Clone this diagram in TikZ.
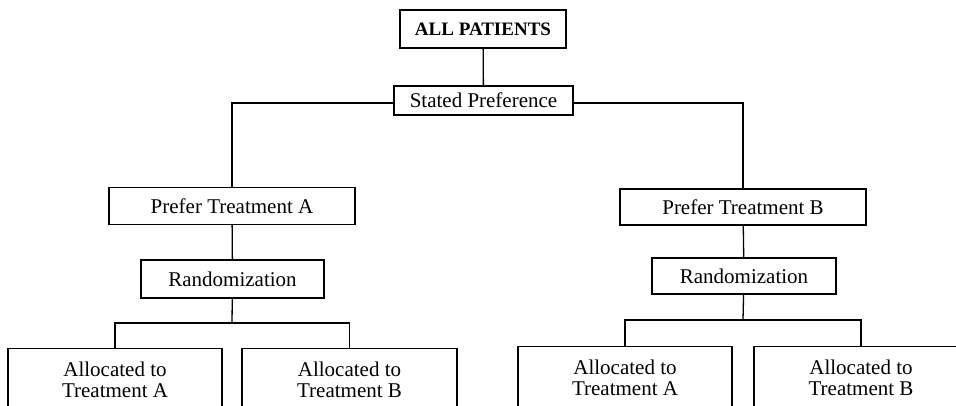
\documentclass[tikz,border=0pt]{standalone}
\usepackage{fontspec}
\setmainfont{Liberation Serif}
\begin{document}
\begin{tikzpicture}[x=1pt,y=-1pt,
  every node/.style={font=\fontsize{21}{21}\selectfont},
  box/.style={draw,line width=1.3pt,rectangle,inner sep=0pt},
  conn/.style={line width=1.3pt}]
\useasboundingbox (0,0) rectangle (956,405);
\clip (0,0) rectangle (956,405);
\fill[white] (0,0) rectangle (956,405);
\node[box,minimum width=166pt,minimum height=38pt,font=\fontsize{19}{19}\selectfont\bfseries] (all) at (483,29) {ALL PATIENTS};
\node[box,minimum width=179pt,minimum height=29pt] (stated) at (483.5,100.5) {Stated Preference};
\node[box,minimum width=246pt,minimum height=37pt] (prefA) at (232,206) {Prefer Treatment A};
\node[box,minimum width=183pt,minimum height=38pt] (randA) at (232.5,279) {Randomization};
\node[box,minimum width=246pt,minimum height=36pt] (prefB) at (743,207) {Prefer Treatment B};
\node[box,minimum width=184pt,minimum height=36pt] (randB) at (744,276) {Randomization};
\node[box,anchor=north,minimum width=214pt,minimum height=62pt,align=center] (allocAA) at (115,348) {Allocated to\\Treatment A};
\node[box,anchor=north,minimum width=215pt,minimum height=62pt,align=center] (allocAB) at (349.5,348) {Allocated to\\Treatment B};
\node[box,anchor=north,minimum width=214pt,minimum height=62pt,align=center] (allocBA) at (625,346) {Allocated to\\Treatment A};
\node[box,anchor=north,minimum width=214pt,minimum height=62pt,align=center] (allocBB) at (861,346) {Allocated to\\Treatment B};
\coordinate (jA) at (232,323);
\coordinate (jB) at (743,320);
\draw[conn] (all) -- (stated);
\draw[conn] ([yshift=-2.5pt]stated.west) -| (prefA.north);
\draw[conn] ([yshift=-2.5pt]stated.east) -| (prefB.north);
\draw[conn] (prefA) -- (randA);
\draw[conn] (prefB) -- (randB);
\draw[conn] (randA) -- (jA);
\draw[conn] (randB) -- (jB);
\draw[conn] (allocAA.north) |- (jA) -| (allocAB.north);
\draw[conn] (allocBA.north) |- (jB) -| (allocBB.north);
\end{tikzpicture}
\end{document}
